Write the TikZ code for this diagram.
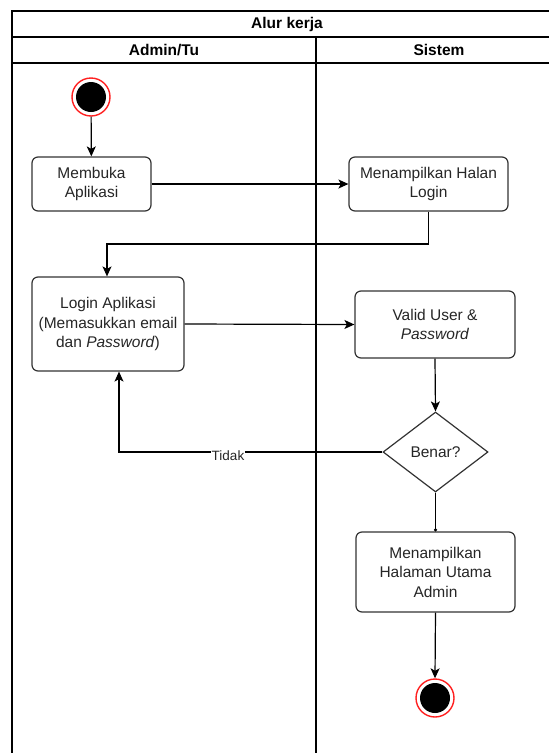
\documentclass[tikz,border=0pt]{standalone}
\usepackage{fontspec}
\setmainfont{Liberation Sans}
\usetikzlibrary{arrows.meta,shapes.geometric}
\definecolor{edge}{HTML}{333333}
\definecolor{txt}{HTML}{262626}
\definecolor{ringred}{HTML}{FF2020}
\tikzset{
  lane/.style={draw=black, line width=1.2pt},
  hdr/.style={font=\fontsize{15.5}{18}\selectfont\bfseries, text=black, inner sep=0pt},
  actbox/.style={draw=edge, line width=1.2pt, rounded corners=6pt, fill=white,
    align=center, text=txt, font=\fontsize{15.5}{19.5}\selectfont, inner sep=2pt},
  decbox/.style={draw=edge, line width=1.2pt, diamond, fill=white, inner sep=0pt,
    text=txt, font=\fontsize{15.5}{19.5}\selectfont, minimum width=105pt, minimum height=80pt},
  termnode/.style={circle, draw=ringred, line width=1.4pt, fill=white, inner sep=0pt,
    minimum size=38pt, path picture={\fill[black] (path picture bounding box.center) circle (15pt);}},
  arr/.style={draw=black, line width=1.2pt, -{Stealth[length=10pt,width=9pt,inset=2.5pt]}},
  plain/.style={draw=black, line width=1.2pt},
  lbl/.style={fill=white, inner sep=1pt, text=txt, font=\fontsize{13.5}{15}\selectfont}
}
\begin{document}
\begin{tikzpicture}[x=1pt,y=-1pt]
\useasboundingbox[fill=white] (0,0) rectangle (549,753);
% frame
\draw[lane] (549,11) -- (12,11) -- (12,753);
\draw[lane] (12,37) -- (549,37);
\draw[lane] (12,63) -- (549,63);
\draw[lane] (316,37) -- (316,753);
\node[hdr] (title) at (287,24) {Alur kerja};
\node[hdr] (laneA) at (164,50) {Admin/Tu};
\node[hdr] (laneB) at (439,50) {Sistem};
% nodes
\node[termnode] (start) at (91,97) {};
\node[actbox, minimum width=119pt, minimum height=54pt] (membuka) at (91.5,184) {Membuka\\Aplikasi};
\node[actbox, minimum width=159pt, minimum height=54pt] (halan) at (428.5,184) {Menampilkan Halan\\Login};
\node[actbox, minimum width=152pt, minimum height=94pt] (login) at (108,324) {Login Aplikasi\\(Memasukkan email\\dan \textit{Password})};
\node[actbox, minimum width=160pt, minimum height=67pt] (valid) at (435,324.5) {Valid User \&\\\textit{Password}};
\node[decbox] (benar) at (435.5,452) {Benar?};
\node[actbox, minimum width=159pt, minimum height=80pt] (halaman) at (435.5,572) {Menampilkan\\Halaman Utama\\Admin};
\node[termnode] (stop) at (435,698) {};
% bend points
\coordinate (b1) at (428.5,244);
\coordinate (b2) at (107,244);
\coordinate (b3) at (119,452);
% connectors
\draw[arr] (start) -- (membuka);
\draw[arr] (membuka.east) -- (halan.west);
\draw[arr] (halan.south) -- (b1) -- (b2) -- (login.north -| b2);
\draw[arr] (login.east) -- (valid.west);
\draw[arr] (valid.south) -- (benar.north);
\draw[arr] (benar.west) -- (b3) -- (login.south -| b3);
\node[lbl] (tidak) at (228,456) {Tidak};
\draw[plain, -{Circle[length=3pt]}] (benar.south) -- (halaman.north);
\draw[arr] (halaman.south) -- (stop.north);
\end{tikzpicture}
\end{document}
